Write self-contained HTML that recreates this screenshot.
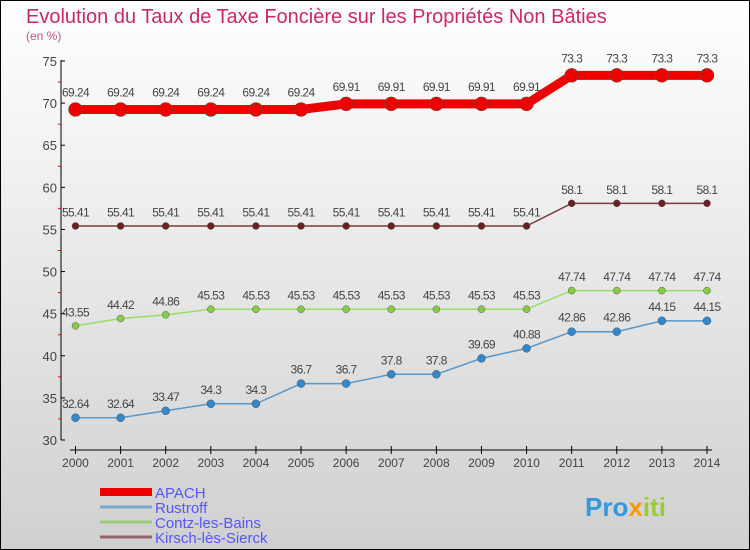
<!DOCTYPE html>
<html><head><meta charset="utf-8"><style>
body{margin:0}
#c{width:750px;height:550px;position:relative;overflow:hidden;background:linear-gradient(#ffffff,#d0d0d0);box-sizing:border-box;border:1px solid #000;font-family:"Liberation Sans",sans-serif}
</style></head><body>
<div id="c">
<svg id="s" width="750" height="550" style="position:absolute;left:-1px;top:-1px">
<text x="26" y="23" font-size="20" fill="#c8286a">Evolution du Taux de Taxe Foncière sur les Propriétés Non Bâties</text>
<text x="26" y="40" font-size="12" fill="#c8508a">(en %)</text>
<g id="axes"></g><g id="series"></g>
<text x="585" y="516" font-size="26" font-weight="bold" fill="#3399dd">Pro<tspan fill="#ff9900">x</tspan><tspan fill="#99cc33">iti</tspan></text>
</svg>
</div>
<script>
const years=[2000,2001,2002,2003,2004,2005,2006,2007,2008,2009,2010,2011,2012,2013,2014];
const yTicks=[30,35,40,45,50,55,60,65,70,75];
const apach=[69.24,69.24,69.24,69.24,69.24,69.24,69.91,69.91,69.91,69.91,69.91,73.3,73.3,73.3,73.3];
const rustroff=[32.64,32.64,33.47,34.3,34.3,36.7,36.7,37.8,37.8,39.69,40.88,42.86,42.86,44.15,44.15];
const contz=[43.55,44.42,44.86,45.53,45.53,45.53,45.53,45.53,45.53,45.53,45.53,47.74,47.74,47.74,47.74];
const kirsch=[55.41,55.41,55.41,55.41,55.41,55.41,55.41,55.41,55.41,55.41,55.41,58.1,58.1,58.1,58.1];
const names=["APACH","Rustroff","Contz-les-Bains","Kirsch-lès-Sierck"];
const NS="http://www.w3.org/2000/svg";
const X=i=>75.5+i*(707-75.5)/14;
const Y=v=>440-(v-30)*(379/45);
function mk(p,t,a){const e=document.createElementNS(NS,t);for(const k in a)e.setAttribute(k,a[k]);p.appendChild(e);return e;}
const ax=document.getElementById('axes'),sg=document.getElementById('series');
let e=mk(ax,'line',{x1:61,y1:60,x2:61,y2:440,stroke:'#000'});

e=mk(ax,'line',{x1:70,y1:450,x2:712,y2:450,stroke:'#000'});

yTicks.forEach((v,i)=>{
 mk(ax,'line',{x1:61,y1:Y(v),x2:65,y2:Y(v),stroke:'#000'});
 if(i<yTicks.length-1) mk(ax,'line',{x1:58,y1:Y(v+2.5),x2:61,y2:Y(v+2.5),stroke:'#e00'});
 const t=mk(ax,'text',{x:57,y:Y(v)+5,'font-size':13,'text-anchor':'end',fill:'#444'});t.textContent=v;
 
});
years.forEach((y,i)=>{
 mk(ax,'line',{x1:X(i),y1:446,x2:X(i),y2:454,stroke:'#000'});
 const t=mk(ax,'text',{x:X(i),y:467,'font-size':12,'text-anchor':'middle',fill:'#444'});t.textContent=y;
 
});
function series(d,col,dot,w,r,name){
 const g=mk(sg,'g',{});
 const l=mk(g,'polyline',{points:d.map((v,i)=>X(i)+','+Y(v)).join(' '),fill:'none',stroke:col,'stroke-width':w});
 
 d.forEach((v,i)=>{
  const c=mk(g,'circle',{cx:X(i),cy:Y(v),r:r,fill:dot,stroke:'#555','stroke-width':0.5});
  
  const t=mk(g,'text',{x:X(i),y:Y(v)-(r+6),'font-size':12,'text-anchor':'middle',fill:'#444','letter-spacing':'-0.6'});t.textContent=v;
  
 });
}
series(apach,'#ee0000','#ee0000',9,7,'apach');
series(kirsch,'#7a3a3a','#6a2020',1.5,3.5,'kirsch');
series(contz,'#99dd66','#88cc44',1.5,3.5,'contz');
series(rustroff,'#5599cc','#3388cc',1.5,4,'rustroff');
const lc=['#ee0000','#77aacc','#99cc77','#996666'],lw=[8,3,3,3];
names.forEach((n,i)=>{
 const y=492+i*15;
 const l=mk(sg,'line',{x1:100,y1:y,x2:152,y2:y,stroke:lc[i],'stroke-width':lw[i]});
 
 const t=mk(sg,'text',{x:155,y:y+6,'font-size':15,fill:'#5555ff'});t.textContent=n;
 
});
</script>
</body></html>
